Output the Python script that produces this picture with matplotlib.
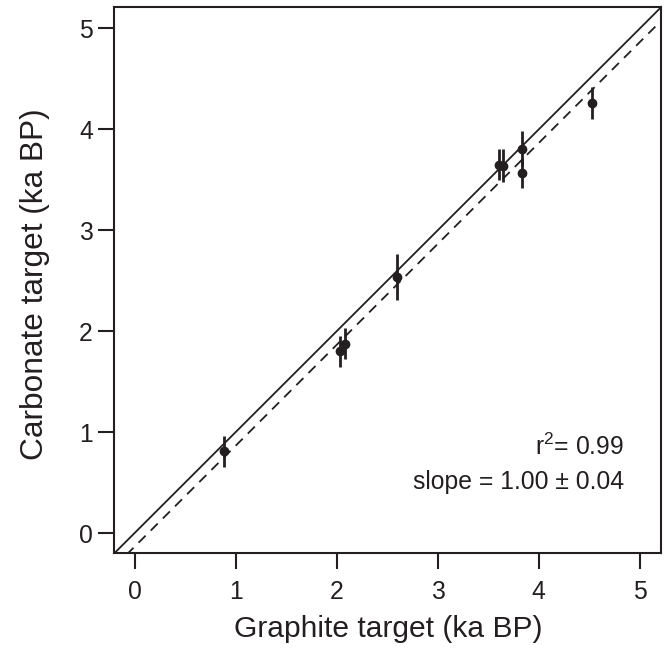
import matplotlib
matplotlib.use("Agg")
import matplotlib.pyplot as plt
import numpy as np

plt.rcParams['font.family'] = ['Liberation Sans', 'DejaVu Sans']
plt.rcParams['mathtext.fontset'] = 'custom'
plt.rcParams['mathtext.rm'] = 'Liberation Sans'
plt.rcParams['mathtext.it'] = 'Liberation Sans'

graphite = [0.89, 2.035, 2.084, 2.60, 3.61, 3.644, 3.835, 3.835, 4.53]
carbonate = [0.81, 1.80, 1.876, 2.54, 3.65, 3.64, 3.81, 3.57, 4.26]
carbonate_err = [0.15, 0.15, 0.155, 0.23, 0.155, 0.165, 0.17, 0.15, 0.16]
fit_slope = 1.00
fit_intercept = -0.135
ticks = [0, 1, 2, 3, 4, 5]

col = '#231f20'
W, H = 670, 654
fig = plt.figure(figsize=(W / 100, H / 100), dpi=100)
ax = fig.add_axes([114.3 / W, 1 - 553.3 / H, (661 - 114.3) / W, (553.3 - 7.3) / H])
lim = (-0.2, 5.21)
ax.set_xlim(*lim)
ax.set_ylim(*lim)

xx = np.array(lim)
ax.plot(xx, xx, color=col, lw=1.3, zorder=2)
ax.plot(xx, fit_slope * xx + fit_intercept, color=col, lw=1.3, ls=(0, (5.5, 4)), zorder=2)

ax.errorbar(graphite, carbonate, yerr=carbonate_err, fmt='o', color=col, ms=6,
            elinewidth=2, capsize=0, zorder=3)

ax.set_xticks(ticks)
ax.set_yticks(ticks)
ax.tick_params(direction='out', length=11.5, width=1.5, color=col, labelsize=17.8,
               labelcolor=col)
ax.tick_params(axis='x', pad=7.5)
ax.tick_params(axis='y', pad=4)
for s in ax.spines.values():
    s.set_linewidth(1.5)
    s.set_color(col)

fig.text(388.3 / W, 1 - 636.7 / H, 'Graphite target (ka BP)', ha='center', va='baseline',
         fontsize=21.6, color=col)
fig.text(43 / W, 1 - 284 / H, 'Carbonate target (ka BP)', ha='center', va='baseline',
         rotation=90, rotation_mode='anchor', fontsize=22.8, color=col)

ax.text(624, H - 455, r'r$^2$= 0.99', transform=None, ha='right', va='baseline',
        fontsize=17.8, color=col)
ax.text(624, H - 489, 'slope = 1.00 ± 0.04', transform=None, ha='right', va='baseline',
        fontsize=17.8, color=col)

fig.savefig('out.png', dpi=100)
